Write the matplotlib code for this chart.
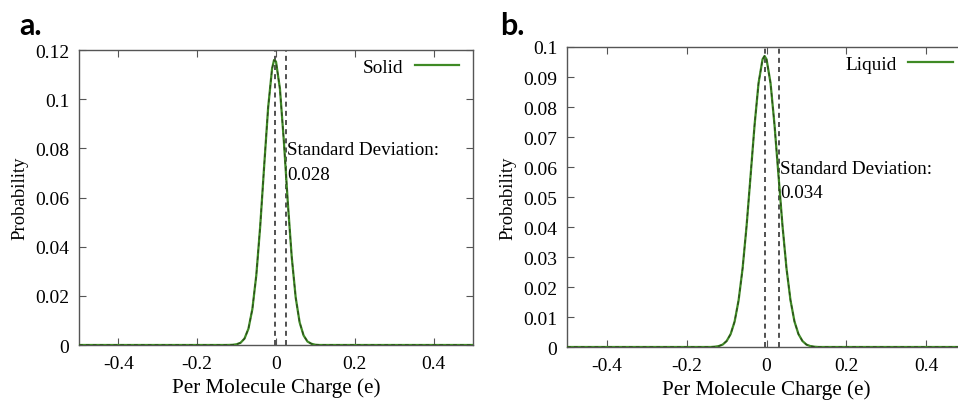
import matplotlib
matplotlib.use("Agg")
import matplotlib.pyplot as plt

# ---- data ----
solid_x = [-0.5, -0.13, -0.12, -0.11, -0.10, -0.09, -0.08, -0.07, -0.06, -0.05, -0.04, -0.03,
           -0.02, -0.01, -0.005, 0.0, 0.01, 0.02, 0.03, 0.04, 0.05, 0.06, 0.07, 0.08,
           0.09, 0.10, 0.11, 0.5]
solid_y = [0.0, 0.0, 0.00002, 0.00008, 0.0003, 0.0009, 0.0026, 0.0066, 0.0146, 0.0284, 0.0485,
           0.0729, 0.0965, 0.1124, 0.1159, 0.1153, 0.1042, 0.0828, 0.0579, 0.0357, 0.0193,
           0.0092, 0.0039, 0.0014, 0.0005, 0.0001, 0.0, 0.0]

liquid_x = [-0.5, -0.14, -0.13, -0.12, -0.11, -0.10, -0.09, -0.08, -0.07, -0.06, -0.05, -0.04,
            -0.03, -0.02, -0.01, -0.005, 0.0, 0.01, 0.02, 0.03, 0.04, 0.05, 0.06, 0.07,
            0.08, 0.09, 0.10, 0.11, 0.12, 0.13, 0.5]
liquid_y = [0.0, 0.0, 0.0001, 0.0003, 0.0008, 0.0020, 0.0043, 0.0085, 0.0156, 0.0262, 0.0404,
            0.0571, 0.0740, 0.0880, 0.0959, 0.0970, 0.0959, 0.0880, 0.0740, 0.0571, 0.0404,
            0.0262, 0.0156, 0.0085, 0.0043, 0.0020, 0.0008, 0.0003, 0.0001, 0.0, 0.0]

solid_mean, solid_std_line, solid_std = -0.002, 0.026, "0.028"
liquid_mean, liquid_std_line, liquid_std = -0.003, 0.032, "0.034"

solid_yticks = [0, 0.02, 0.04, 0.06, 0.08, 0.1, 0.12]
solid_yticklabels = ["0", "0.02", "0.04", "0.06", "0.08", "0.1", "0.12"]
liquid_yticks = [0, 0.01, 0.02, 0.03, 0.04, 0.05, 0.06, 0.07, 0.08, 0.09, 0.1]
liquid_yticklabels = ["0", "0.01", "0.02", "0.03", "0.04", "0.05", "0.06", "0.07", "0.08", "0.09", "0.1"]
xticks = [-0.4, -0.2, 0, 0.2, 0.4]
xticklabels = ["-0.4", "-0.2", "0", "0.2", "0.4"]

# ---- style ----
SERIF = ["Liberation Serif", "DejaVu Serif"]
plt.rcParams["font.family"] = SERIF
GREEN = "#3f8a25"
FIT = "#2a4a1a"
FS = 14

fig = plt.figure(figsize=(9.58, 4.02), dpi=100)
ax_a = fig.add_axes([0.0825, 0.1393, 0.4112, 0.7338])
ax_b = fig.add_axes([0.5919, 0.1343, 0.4165, 0.7463])


def draw(ax, x, y, label, mean, stdline, stdtxt, yticks, ylabels, ymax, ytxt, leg_y):
    ax.plot(x, y, color=GREEN, lw=1.6, label=label, zorder=3)
    ax.plot(x, y, color=FIT, lw=0.9, ls=(0, (3, 2.5)), zorder=4)
    ax.axvline(mean, color="#333333", lw=1.2, ls=(0, (3, 2.5)), zorder=2)
    ax.axvline(stdline, color="#333333", lw=1.2, ls=(0, (3, 2.5)), zorder=2)
    ax.set_xlim(-0.5, 0.5)
    ax.set_ylim(0, ymax)
    ax.set_xticks(xticks)
    ax.set_xticklabels(xticklabels, fontsize=FS)
    ax.set_yticks(yticks)
    ax.set_yticklabels(ylabels, fontsize=FS)
    ax.tick_params(direction="in", top=True, right=True, length=5, width=0.8,
                   color="#555555", pad=7)
    for s in ax.spines.values():
        s.set_color("#555555")
        s.set_linewidth(1.0)
    ax.set_xlabel("Per Molecule Charge (e)", fontsize=15.2, labelpad=4)
    ax.set_ylabel("Probability", fontsize=13.5, labelpad=5)
    ax.text(stdline + 0.002, ytxt, "Standard Deviation:\n" + stdtxt, fontsize=13.7,
            va="top", ha="left", linespacing=1.6)
    ax.legend(loc="upper right", bbox_to_anchor=(1.0, leg_y), frameon=False, markerfirst=False,
              fontsize=13.9, handlelength=2.3, handletextpad=0.6, borderaxespad=0.3)


draw(ax_a, solid_x, solid_y, "Solid", solid_mean, solid_std_line, solid_std,
     solid_yticks, solid_yticklabels, 0.12, 0.0828, 1.018)
draw(ax_b, liquid_x, liquid_y, "Liquid", liquid_mean, liquid_std_line, liquid_std,
     liquid_yticks, liquid_yticklabels, 0.1, 0.0625, 1.018)

fig.text(0.02, 0.935, "a.", fontsize=22, fontweight="bold", family=["Lato", "DejaVu Sans"],
         va="center")
fig.text(0.522, 0.935, "b.", fontsize=22, fontweight="bold", family=["Lato", "DejaVu Sans"],
         va="center")

fig.savefig("out.png", dpi=100)
